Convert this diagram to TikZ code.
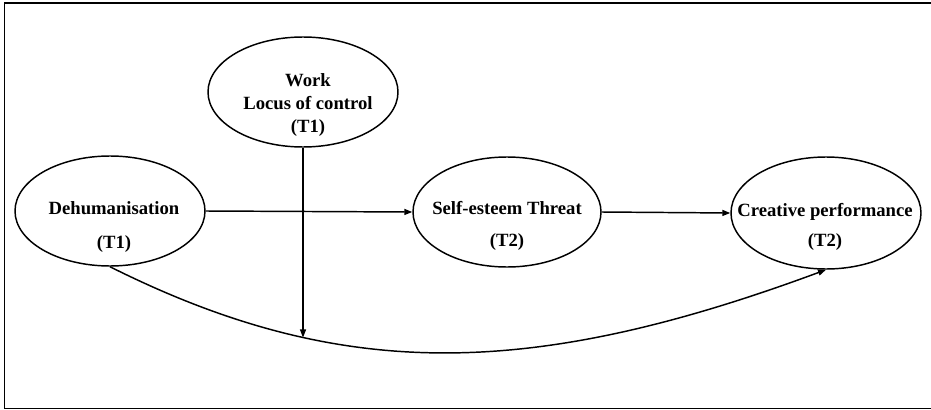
\documentclass[tikz,border=0pt]{standalone}
\usepackage{fontspec}
\setmainfont{Liberation Serif}
\usetikzlibrary{shapes.geometric,arrows.meta,calc}

\begin{document}
\begin{tikzpicture}[x=0.75pt, y=-0.75pt, >={Triangle[length=6pt,width=4.5pt]},
    var/.style={draw, ellipse, line width=1.1pt, inner sep=0pt, minimum width=142.5pt, minimum height=82.5pt},
    txt/.style={align=center, inner sep=0pt, font=\fontsize{14}{17.25}\selectfont\bfseries},
    link/.style={->, line width=1.1pt}]
  \useasboundingbox (0,0) rectangle (931,410);
  \draw[line width=1.1pt] (4.5,3) rectangle (936,408.5);
  % Nodes
  \node[var] (work) at (303,92) {};
  \node[var] (dehum) at (110,211) {};
  \node[var, minimum width=141pt] (self) at (507,212) {};
  \node[var, minimum height=84pt] (creat) at (826,213) {};
  \node[txt] (work-t) at ($(work.center)+(5,13)$) {Work\\Locus of control\\(T1)};
  \node[txt] (dehum-t) at ($(dehum.center)+(4,16)$) {Dehumanisation\\[8.25pt](T1)};
  \node[txt] (self-t) at ($(self.center)+(0,14)$) {Self-esteem Threat\\[6.75pt](T2)};
  \node[txt] (creat-t) at ($(creat.center)+(-1,14)$) {Creative performance\\[5.25pt](T2)};
  % Edges
  \draw[link] (dehum.east) -- (self.west);
  \draw[link] (self.east) -- (creat.west);
  \draw[link] (dehum.south) .. controls +(230,115) and +(-297,110) .. coordinate[pos=0.29] (hit) (creat.south);
  \draw[->, line width=0.8pt] (work.south) -- (work.south |- hit);
\end{tikzpicture}
\end{document}
